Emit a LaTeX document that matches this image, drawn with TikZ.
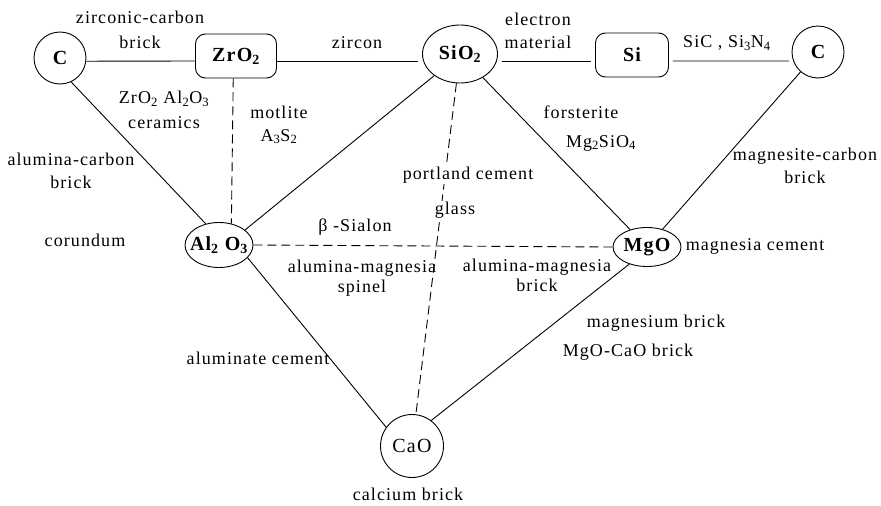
\documentclass[tikz,border=0pt]{standalone}
\usepackage{fontspec}
\setmainfont{Liberation Serif}[LetterSpace=6]
\usetikzlibrary{shapes.geometric}

\begin{document}
\begin{tikzpicture}[x=1pt, y=-1pt, line width=0.9pt,
every node/.style={align=center, inner sep=0pt, font=\fontsize{18}{23}\selectfont},
oxide/.style={draw, font=\fontsize{20}{24}\selectfont\bfseries},
disc/.style={oxide, circle, minimum size=52pt},
oval/.style={oxide, ellipse},
box/.style={oxide, rounded corners=10pt, minimum height=44pt},
dline/.style={dash pattern=on 9pt off 5pt},
gap/.style={shorten <=4pt, shorten >=4pt}]
\useasboundingbox (0,0) rectangle (881,506);
%================================================================
%	Nodes
\node[disc] (cl) at (60,58) {C};
\node[box, minimum width=81pt] (zr) at (236,56) {ZrO\textsubscript{2}};
\node[oval, minimum width=75pt, minimum height=58pt] (sio) at (460,54) {SiO\textsubscript{2}};
\node[box, minimum width=73pt] (si) at (632,55) {Si};
\node[disc] (cr) at (818,52) {C};

\node[oval, minimum width=68pt, minimum height=45pt] (al) at (219,245) {\makebox[44pt]{Al\textsubscript{2} O\textsubscript{3}}};
\node[oval, minimum width=68pt, minimum height=39pt] (mg) at (647,247) {MgO};

\node[disc, minimum size=63pt, font=\fontsize{20}{24}\selectfont] (ca) at (412,446) {CaO};
%================================================================
%	Lines
\draw (cl.-7) -- ([yshift=-5pt]zr.west);
\draw[shorten >=4pt] ([yshift=-5pt]zr.east) -- ([yshift=-7pt]sio.west);
\draw[gap] ([yshift=-7pt]sio.east) -- ([yshift=-6pt]si.west);
\draw[gap] ([yshift=-6pt]si.east) -- (cr.200);

\draw (cl.-65) -- (al.122);
\draw[dline] (zr.-97) -- (al.60);
\draw (sio.-140) -- (al.30);
\draw[dline] (sio) -- (ca);
\draw (sio) -- (mg);
\draw (cr) -- (mg);

\draw[dline] (al.east) -- (mg.west);
\draw (al.-24) -- (ca.144);
\draw (mg.-136) -- (ca.53);
%================================================================
%	Labels
\node (tzc) at (140,30) {zirconic-carbon\\[2pt]brick};
\node (tzac) at (164,110) {ZrO\textsubscript{2} Al\textsubscript{2}O\textsubscript{3}\\[2pt]ceramics};
\node (tmot) at (279,125) {motlite\\A\textsubscript{3}S\textsubscript{2}};
\node (tzir) at (357,43) {zircon};
\node (tele) at (538,31) {electron\\material};
\node (tsic) at (727,43) {SiC , Si\textsubscript{3}N\textsubscript{4}};
\node (tfor) at (581,112) {forsterite};
\node (tmgs) at (601,143) {Mg\textsubscript{2}SiO\textsubscript{4}};

\node (tac) at (71,171) {alumina-carbon\\brick};
\node (tcor) at (85,240) {corundum};
\node[fill=white, inner sep=1pt] (tpor) at (468,175) {portland cement};
\node[fill=white, inner sep=1pt] (tgla) at (455,210) {glass};
\node (tmc) at (805,166) {magnesite-carbon\\brick};

\node (tsia) at (355,227) {β -Sialon};
\node (tmce) at (755,246) {magnesia cement};
\node (tams) at (362,278) {alumina-magnesia\\[-3pt]spinel};
\node (tamb) at (537,275) {alumina-magnesia\\[-3pt]brick};

\node (tmb) at (656,323) {magnesium brick};
\node (tmcb) at (628,352) {MgO-CaO brick};
\node (talc) at (258,358) {aluminate cement};
\node (tcal) at (408,494) {calcium brick};
%================================================================
\end{tikzpicture}
\end{document}
